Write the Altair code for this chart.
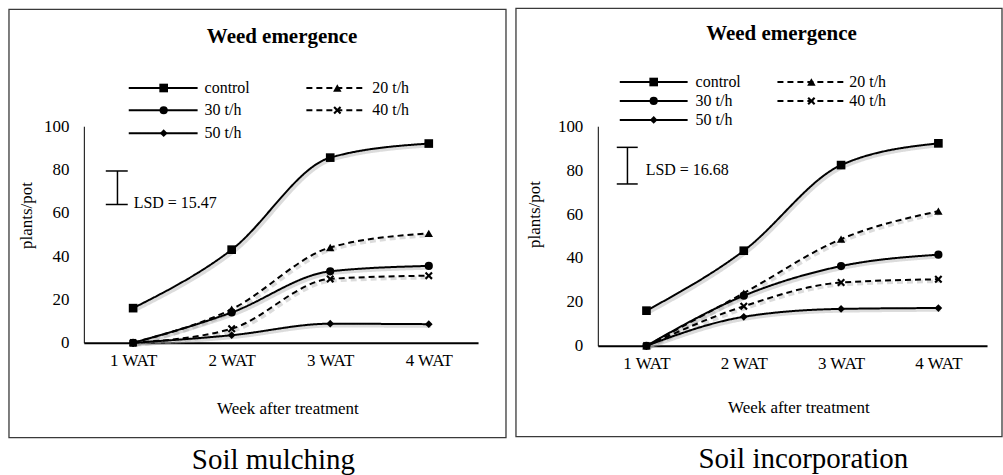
import altair as alt
import pandas as pd

# ---------------- data ----------------
weeks = ["1 WAT", "2 WAT", "3 WAT", "4 WAT"]
series = ["control", "20 t/h", "30 t/h", "40 t/h", "50 t/h"]

mulch_control = [16, 43, 85.5, 92]
mulch_20 = [0, 15.5, 44, 50.5]
mulch_30 = [0, 14, 33, 35.5]
mulch_40 = [0, 6.5, 29.5, 31]
mulch_50 = [0, 3.5, 8.8, 8.6]

incorp_control = [16, 43.3, 82.3, 92.2]
incorp_20 = [0, 24, 48.6, 61.3]
incorp_30 = [0, 22.8, 36.3, 41.5]
incorp_40 = [0, 18, 28.8, 30.3]
incorp_50 = [0, 13.2, 16.8, 17.2]

lsd_mulch = 15.47
lsd_incorp = 16.68

FONT = "Liberation Serif"

X_PATH = ("M-1,-0.62L-0.62,-1L0,-0.38L0.62,-1L1,-0.62L0.38,0L1,0.62L0.62,1"
          "L0,0.38L-0.62,1L-1,0.62L-0.38,0Z")
shape_scale = alt.Scale(domain=series,
                        range=["square", "triangle-up", "circle", X_PATH, "diamond"])
size_scale = alt.Scale(domain=series, range=[75, 60, 75, 45, 50])
dash_scale = alt.Scale(domain=series,
                       range=[[1, 0], [6, 4], [1, 0], [6, 4], [1, 0]])


def long_table(vals):
    rows = []
    for s, v in zip(series, vals):
        for w, y in zip(weeks, v):
            rows.append({"week": w, "series": s, "value": y})
    return pd.DataFrame(rows)


def panel(vals, lsd, lay, caption):
    df = long_table(vals)
    W, H = lay["size"]

    x = alt.X("week:N", sort=weeks,
              scale=alt.Scale(type="point", padding=0.5),
              axis=alt.Axis(title="Week after treatment", labelAngle=0,
                            labelPadding=10, ticks=False,
                            labelFont=FONT, labelFontSize=17, labelColor="black",
                            domainColor="black", domainWidth=2,
                            titleX=lay["xtitle"][0], titleY=lay["xtitle"][1],
                            titleBaseline="middle", titleFontWeight="normal",
                            titleFont=FONT, titleFontSize=17, titleColor="black"))
    y = alt.Y("value:Q", scale=alt.Scale(domain=[0, 100], nice=False),
              axis=alt.Axis(title="plants/pot", values=[0, 20, 40, 60, 80, 100],
                            ticks=False, grid=False, labelPadding=15,
                            labelFont=FONT, labelFontSize=17, labelColor="black",
                            domainColor="black", domainWidth=1,
                            titleX=lay["ytitle"][0], titleY=lay["ytitle"][1],
                            titleFontWeight="normal", titleFont=FONT,
                            titleFontSize=17, titleColor="black"))

    base = alt.Chart(df)
    shadow = base.mark_line(interpolate="monotone", color="#9a9a9a",
                            strokeWidth=3.5, opacity=0.35,
                            xOffset=2, yOffset=2).encode(
        x=x, y=y, detail="series:N",
        strokeDash=alt.StrokeDash("series:N", scale=dash_scale, legend=None))
    lines = base.mark_line(interpolate="monotone", color="black",
                           strokeWidth=2).encode(
        x=x, y=y, detail="series:N",
        strokeDash=alt.StrokeDash("series:N", scale=dash_scale, legend=None))
    pts = base.mark_point(filled=True, color="black", opacity=1).encode(
        x=x, y=y,
        shape=alt.Shape("series:N", scale=shape_scale, legend=None),
        size=alt.Size("series:N", scale=size_scale, legend=None))

    # frame
    fx0, fx1, fy0, fy1 = lay["frame"]
    one = alt.Data(values=[{"k": 1}])
    frame = alt.Chart(one).mark_rect(fillOpacity=0, stroke="#3a3a3a",
                                     strokeWidth=1.3).encode(
        x=alt.value(fx0), x2=alt.value(fx1), y=alt.value(fy0), y2=alt.value(fy1))

    title = alt.Chart(one).mark_text(text="Weed emergence", font=FONT,
                                     fontSize=21, fontWeight="bold",
                                     align="center", baseline="middle",
                                     color="black").encode(
        x=alt.value(lay["title"][0]), y=alt.value(lay["title"][1]))

    cap = alt.Chart(one).mark_text(text=caption, font=FONT, fontSize=29,
                                   align="center", baseline="middle",
                                   color="black").encode(
        x=alt.value(lay["caption"][0]), y=alt.value(lay["caption"][1]))

    # legend
    rows_y = lay["rows"]
    cols = lay["cols"]
    slots = [(0, 0), (1, 0), (0, 1), (1, 1), (0, 2)]
    leg = []
    for s, (c, r) in zip(series, slots):
        l0, l1, m, t = cols[c]
        leg.append({"series": s, "l0": l0, "l1": l1, "m": m, "t": t,
                    "ly": rows_y[r]})
    legdf = pd.DataFrame(leg)
    lb = alt.Chart(legdf)
    leg_line = lb.mark_rule(color="black", strokeWidth=2).encode(
        x=alt.X("l0:Q", scale=None), x2="l1:Q",
        y=alt.Y("ly:Q", scale=None),
        strokeDash=alt.StrokeDash("series:N", scale=dash_scale, legend=None))
    leg_pt = lb.mark_point(filled=True, color="black", opacity=1).encode(
        x=alt.X("m:Q", scale=None), y=alt.Y("ly:Q", scale=None),
        shape=alt.Shape("series:N", scale=shape_scale, legend=None),
        size=alt.Size("series:N", scale=size_scale, legend=None))
    leg_txt = lb.mark_text(font=FONT, fontSize=16, align="left",
                           baseline="middle", color="black").encode(
        x=alt.X("t:Q", scale=None), y=alt.Y("ly:Q", scale=None),
        text="series:N")

    # LSD bar
    lo = lay["lsd_lo"]
    lsddf = pd.DataFrame([{"lo": lo, "hi": lo + lsd,
                           "lab": "LSD = %.2f" % lsd, "ty": lay["lsd_text"][1]}])
    lsdb = alt.Chart(lsddf)
    lsd_v = lsdb.mark_rule(color="black", strokeWidth=1.5).encode(
        x=alt.value(lay["lsd_x"]), y=alt.Y("lo:Q"), y2="hi:Q")
    lsd_c1 = lsdb.mark_rule(color="black", strokeWidth=1.5).encode(
        x=alt.value(lay["lsd_cap"][0]), x2=alt.value(lay["lsd_cap"][1]),
        y=alt.Y("lo:Q"))
    lsd_c2 = lsdb.mark_rule(color="black", strokeWidth=1.5).encode(
        x=alt.value(lay["lsd_cap"][0]), x2=alt.value(lay["lsd_cap"][1]),
        y=alt.Y("hi:Q"))
    lsd_t = lsdb.mark_text(font=FONT, fontSize=16, align="left",
                           baseline="middle", color="black").encode(
        x=alt.value(lay["lsd_text"][0]), y=alt.Y("ty:Q"), text="lab:N")

    return alt.layer(frame, title, cap, leg_line, leg_pt, leg_txt,
                     lsd_v, lsd_c1, lsd_c2, lsd_t,
                     shadow, lines, pts).properties(width=W, height=H)


lay_left = {
    "size": (395, 217),
    "frame": (-75, 423, -117, 312),
    "title": (198.7, -89),
    "rows": [-38.3, -16, 7],
    "cols": [(45, 114, 80, 121), (223, 280, 254, 289)],
    "lsd_x": 33.7, "lsd_cap": (22, 44), "lsd_lo": 63.86,
    "lsd_text": (50, 64.5),
    "xtitle": (204, 66),
    "ytitle": (-48, 89),
    "caption": (190, 334),
}
lay_right = {
    "size": (390, 220),
    "frame": (-82, 405, -118, 311),
    "title": (184, -92),
    "rows": [-44.3, -25.3, -6.3],
    "cols": [(22, 90, 56, 98), (180, 248, 214, 252)],
    "lsd_x": 29.7, "lsd_cap": (19, 40), "lsd_lo": 73.7,
    "lsd_text": (48, 80),
    "xtitle": (201, 62),
    "ytitle": (-54, 88),
    "caption": (206, 333),
}

left = panel([mulch_control, mulch_20, mulch_30, mulch_40, mulch_50],
             lsd_mulch, lay_left, "Soil mulching")
right = panel([incorp_control, incorp_20, incorp_30, incorp_40, incorp_50],
              lsd_incorp, lay_right, "Soil incorporation")

chart = alt.hconcat(left, right, spacing=8).properties(
    padding={"left": 8, "top": 7, "right": 0, "bottom": 0},
    background="white",
).configure_view(stroke=None).configure_axis(
    labelFont=FONT, labelFontSize=17, labelColor="black", grid=False,
    titleColor="black", titleFont=FONT
).configure_text(font=FONT)

chart.save("out.html", embed_options={"renderer": "svg", "actions": False})
